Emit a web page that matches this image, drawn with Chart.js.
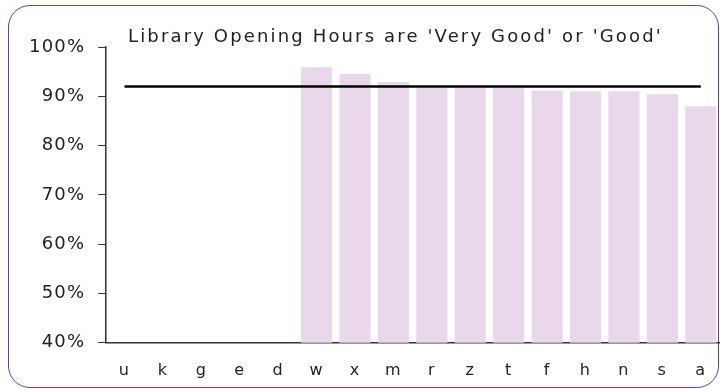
<!DOCTYPE html>
<html>
<head>
<meta charset="utf-8">
<script src="https://cdn.jsdelivr.net/npm/chart.js@4"></script>
<style>
  html, body { margin: 0; padding: 0; background: #fff; overflow: hidden; }
  #wrap { position: relative; width: 726px; height: 390px; }
  #frame {
    position: absolute; left: 8px; top: 5px; width: 709px; height: 381px;
    border: 1.5px solid #7438a2; border-radius: 22px;
  }
  canvas { position: absolute; left: 0; top: 0; }
</style>
</head>
<body>
<div id="wrap">
  <div id="frame"></div>
  <canvas id="grafico" width="726" height="390"></canvas>
</div>
<script>
// Categorias e valores
const categorias = ['u', 'k', 'g', 'e', 'd', 'w', 'x', 'm', 'r', 'z', 't', 'f', 'h', 'n', 's', 'a'];
const percentuais = [null, null, null, null, null, 95.9, 94.5, 92.9, 92.1, 92.0, 92.0, 91.2, 91.0, 91.0, 90.4, 88.0];
const media = [92, 92, 92, 92, 92, 92, 92, 92, 92, 92, 92, 92, 92, 92, 92, 92];
const ticksY = [40, 50, 60, 70, 80, 90, 100];
const titulo = "Library Opening Hours are 'Very Good' or 'Good'";

const fonte = "'DejaVu Sans', sans-serif";

// Espaçamento de letras em todo o texto do canvas + título desenhado à mão
const espacamento = {
    id: 'espacamento',
    beforeLayout(chart) { chart.ctx.letterSpacing = '1.2px'; },
    beforeDraw(chart) { chart.ctx.letterSpacing = '1.2px'; },
    afterDraw(chart) {
        const c = chart.ctx;
        c.save();
        c.letterSpacing = '2.15px';
        c.font = "18px " + fonte;
        c.fillStyle = '#222';
        c.textAlign = 'left';
        c.textBaseline = 'alphabetic';
        c.fillText(titulo, 128, 42);
        c.restore();
    }
};

var ctx = document.getElementById('grafico').getContext('2d');
new Chart(ctx, {
    type: 'bar',
    data: {
        labels: categorias,
        datasets: [{
            type: 'line',
            data: media,
            borderColor: '#000',
            borderWidth: 2.5,
            pointRadius: 0,
            order: 0
        }, {
            data: percentuais,
            backgroundColor: '#e9d8ea',
            categoryPercentage: 1,
            barPercentage: 0.81,
            order: 1
        }]
    },
    plugins: [espacamento],
    options: {
        responsive: false,
        animation: false,
        layout: { padding: { left: 16, right: 6, top: 47, bottom: -8 } },
        plugins: {
            legend: { display: false },
            tooltip: { enabled: false },
            title: { display: false }
        },
        scales: {
            x: {
                grid: { display: false, drawTicks: false },
                border: { color: '#333', width: 1.5 },
                ticks: { color: '#222', font: { family: fonte, size: 16 }, padding: 18 }
            },
            y: {
                min: 40,
                max: 100,
                afterBuildTicks: axis => { axis.ticks = ticksY.map(v => ({ value: v })); },
                grid: { display: true, drawOnChartArea: false, drawTicks: true, tickLength: 7, tickColor: '#333' },
                border: { color: '#333', width: 1.5 },
                ticks: {
                    color: '#222',
                    font: { family: fonte, size: 18 },
                    padding: 13,
                    callback: v => v + '%'
                }
            }
        }
    }
});
</script>
</body>
</html>
